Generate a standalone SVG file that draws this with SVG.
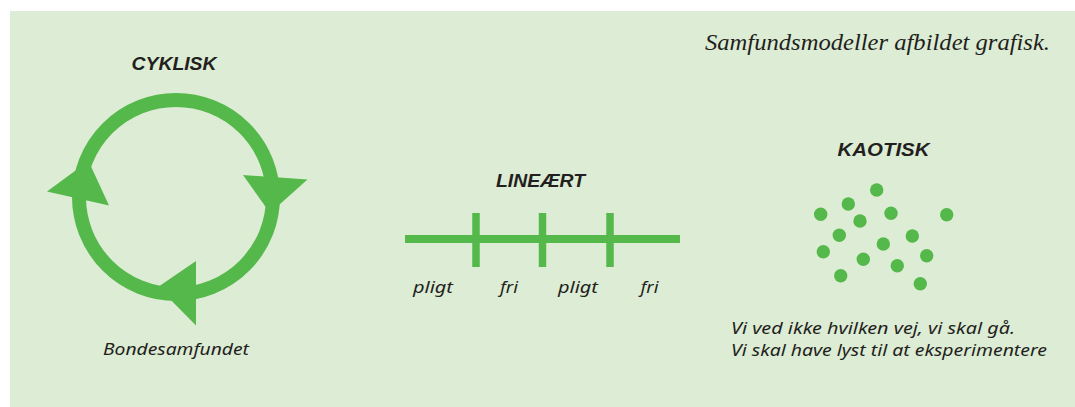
<svg xmlns="http://www.w3.org/2000/svg" width="1075" height="407" viewBox="0 0 1075 407">
<style>
.bg{fill:#ddecd4}
.g{fill:#55b84b}
.ln{stroke:#55b84b;fill:none}
.h{font-family:"Liberation Sans",sans-serif;font-weight:bold;font-style:italic;font-size:19px;fill:#231f20}
.t{font-family:"Noto Sans","Liberation Sans",sans-serif;font-style:italic;font-size:16.5px;fill:#231f20}
.s{font-family:"Liberation Serif",serif;font-style:italic;font-size:22.5px;fill:#231f20}
</style>
<rect class="bg" x="10" y="11" width="1065" height="396"/>
<text class="s" x="705" y="50" textLength="345" lengthAdjust="spacingAndGlyphs">Samfundsmodeller afbildet grafisk.</text>
<g id="cyklisk">
<text class="h" x="174" y="70" text-anchor="middle" textLength="85" lengthAdjust="spacingAndGlyphs">CYKLISK</text>
<circle class="ln" cx="176" cy="197" r="97" stroke-width="14"/>
<polygon class="g" points="47,191.5 109,205.5 88.5,161"/>
<polygon class="g" points="243,175 307.5,179.5 270,213"/>
<polygon class="g" points="196,261 196,325.5 158,287"/>
<text class="t" x="103" y="355" textLength="146" lengthAdjust="spacingAndGlyphs">Bondesamfundet</text>
</g>
<g id="lineaert">
<text class="h" x="540.5" y="187" text-anchor="middle" textLength="89" lengthAdjust="spacingAndGlyphs">LINEÆRT</text>
<line class="ln" x1="405" y1="239" x2="680" y2="239" stroke-width="8"/>
<line class="ln" x1="476" y1="213" x2="476" y2="267" stroke-width="7.5"/>
<line class="ln" x1="542.5" y1="213" x2="542.5" y2="267" stroke-width="7.5"/>
<line class="ln" x1="610" y1="213" x2="610" y2="267" stroke-width="7.5"/>
<text class="t" x="413" y="293" textLength="40" lengthAdjust="spacingAndGlyphs">pligt</text>
<text class="t" x="500" y="293" textLength="18" lengthAdjust="spacingAndGlyphs">fri</text>
<text class="t" x="558" y="293" textLength="40" lengthAdjust="spacingAndGlyphs">pligt</text>
<text class="t" x="640.5" y="293" textLength="18" lengthAdjust="spacingAndGlyphs">fri</text>
</g>
<g id="kaotisk">
<text class="h" x="883.5" y="156" text-anchor="middle" textLength="92" lengthAdjust="spacingAndGlyphs">KAOTISK</text>
<g class="g">
<circle cx="876.7" cy="190" r="6.7"/>
<circle cx="848.3" cy="204" r="6.7"/>
<circle cx="820.7" cy="214.3" r="6.7"/>
<circle cx="891" cy="213.3" r="6.7"/>
<circle cx="946.7" cy="214.7" r="6.7"/>
<circle cx="860" cy="221" r="6.7"/>
<circle cx="839.3" cy="235.3" r="6.7"/>
<circle cx="912.3" cy="236" r="6.7"/>
<circle cx="883.3" cy="244" r="6.7"/>
<circle cx="823.3" cy="251.7" r="6.7"/>
<circle cx="863.3" cy="259.3" r="6.7"/>
<circle cx="926.7" cy="255.7" r="6.7"/>
<circle cx="897.3" cy="265.7" r="6.7"/>
<circle cx="840.7" cy="275.7" r="6.7"/>
<circle cx="920.3" cy="283.7" r="6.7"/>
</g>
<text class="t" x="731" y="334" textLength="284" lengthAdjust="spacingAndGlyphs">Vi ved ikke hvilken vej, vi skal gå.</text>
<text class="t" x="731" y="355.5" textLength="316" lengthAdjust="spacingAndGlyphs">Vi skal have lyst til at eksperimentere</text>
</g>
</svg>
